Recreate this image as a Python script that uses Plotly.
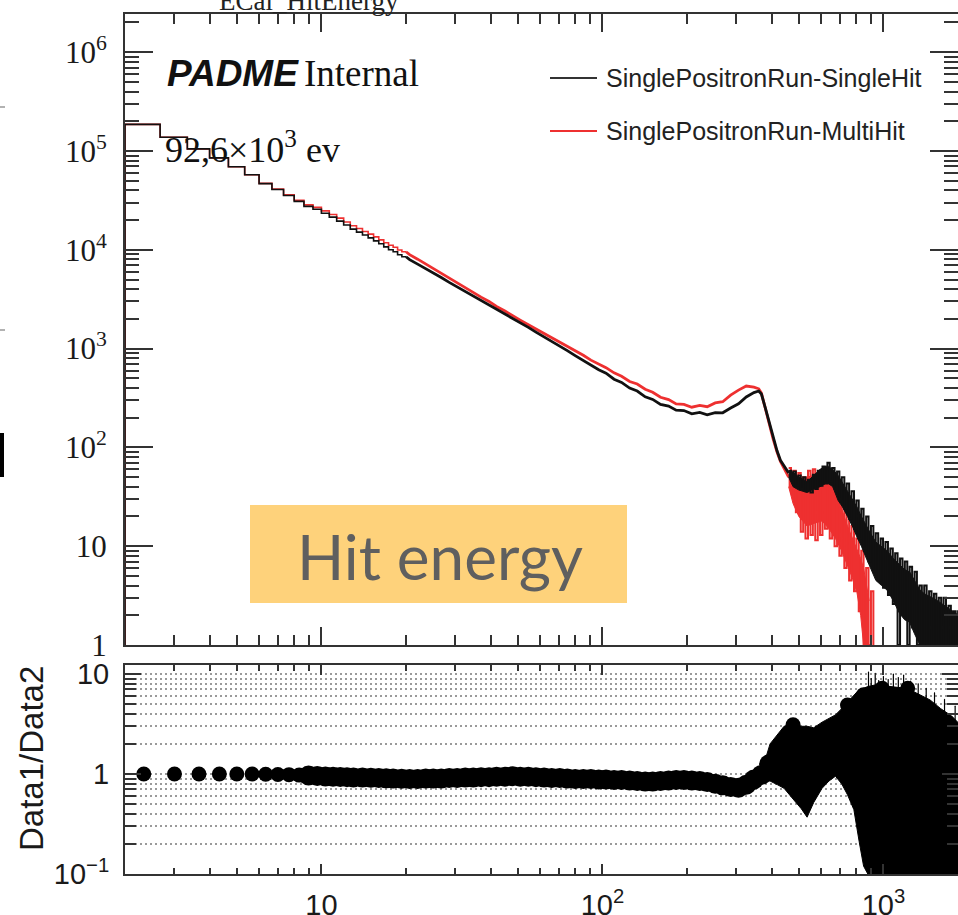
import math
import plotly.graph_objects as go

W, H = 958, 915
def px(x): return x / W
def py(y): return 1 - y / H

# ---------------- data ----------------
# low-energy histogram bins (bin edges, MeV)
low_edges = [2, 2.667, 3.333, 4, 4.667, 5.333, 6, 6.667, 7.333, 8, 8.667, 9.333, 10,
             10.667, 11.333, 12, 12.667, 13.333, 14, 14.667, 15.333, 16, 16.667, 17.333,
             18, 18.667, 19.333, 20]
single_low = [186000, 138000, 105000, 85100, 69200, 57500, 46800, 40700, 35500, 30900,
              27500, 25700, 23400, 21400, 19500, 17800, 16200, 15100, 14100, 13200,
              12300, 11500, 10700, 10000, 9550, 8910, 8510]
multi_low = [186000, 138000, 105000, 85100, 69200, 57500, 47000, 41100, 36000, 31700,
             28500, 26900, 24800, 22800, 20900, 19100, 17500, 16400, 15300, 14400,
             13500, 12600, 11800, 11100, 10600, 9960, 9560]

# mid-energy part of the spectrum
mid_x = [20, 20.6, 22, 23.5, 25, 26.7, 28.5, 30.4, 32.5, 34.7, 37, 39.5, 42, 45, 48, 51,
         54.5, 58, 62, 66, 70.5, 75, 80, 85.5, 91, 97, 103, 110, 117, 125, 133, 142, 151,
         161, 172, 183, 195, 208, 222, 236, 252, 268, 286, 305, 325, 346, 360, 368, 380,
         392, 405, 418, 430, 445, 460]
single_mid = [8510, 7940, 7160, 6460, 5820, 5250, 4680, 4220, 3800, 3430, 3090, 2790, 2510,
              2260, 2020, 1820, 1640, 1470, 1320, 1180, 1060, 955, 850, 762, 680, 610, 565,
              490, 455, 398, 372, 325, 306, 272, 262, 238, 236, 219, 226, 214, 225, 224,
              250, 276, 324, 359, 372, 347, 251, 178, 126, 93, 74, 63, 55]
multi_mid = [9560, 8920, 8040, 7180, 6470, 5830, 5140, 4640, 4130, 3730, 3320, 3000, 2670,
             2400, 2130, 1940, 1740, 1580, 1430, 1300, 1170, 1060, 955, 856, 764, 693, 642,
             568, 525, 465, 438, 388, 362, 322, 305, 275, 272, 255, 266, 258, 282, 290,
             338, 380, 418, 408, 392, 354, 245, 170, 122, 90, 72, 60, 50]

# high-energy noisy part: envelope of the fluctuating bins
blk_band_x = [460, 477, 500, 535, 565, 595, 630, 660, 690, 715, 745, 775, 805, 835, 865,
              900, 940, 985, 1030, 1085, 1140, 1190, 1240, 1290, 1350, 1400, 1466, 1530,
              1590, 1650, 1720, 1790, 1850, 1900]
blk_band_lo = [50, 40, 37, 35, 38, 40, 44, 40, 29, 25, 20, 16, 12.4, 10, 7.8, 6, 4.5, 4,
               3.6, 2.8, 2.1, 1.8, 1.7, 1.3, 1, 1, 1, 1, 1, 1, 1, 1, 1, 1]
blk_band_hi = [58, 56, 50, 45, 52, 60, 65, 60, 52, 44, 37, 30, 25, 20, 16.5, 13.5, 11, 10,
               9, 7.5, 6.5, 5.8, 5.5, 4.5, 3.6, 3.3, 3.1, 2.9, 2.7, 2.5, 2.3, 2.1, 2.0, 1.9]
red_band_x = [460, 477, 500, 535, 565, 605, 640, 675, 710, 745, 775, 805, 830, 850, 870, 890]
red_band_lo = [40, 27, 20, 16, 17, 18, 15, 12, 9, 6.5, 4.8, 3.4, 2, 1, 1, 1]
red_band_hi = [52, 50, 48, 50, 52, 50, 43, 34, 24, 16, 12, 9.5, 7.5, 6, 4, 2.8]

# bin-to-bin fluctuations (alternating high / low bins) in the noisy tail
blk_zig_x = [460, 469, 478, 488, 498, 508, 518, 528, 539, 550, 561, 572, 584, 595, 607, 619,
             632, 644, 657, 670, 684, 697, 711, 726, 740, 755, 770, 786, 801, 817, 834, 850,
             868, 885, 903, 921, 939, 958, 978, 997, 1017, 1038, 1058, 1080, 1101, 1123,
             1146, 1169, 1192, 1216, 1240, 1265, 1291, 1316, 1343, 1370, 1397, 1425, 1454,
             1483, 1513, 1543, 1574, 1605, 1637, 1670, 1704, 1738, 1773, 1808, 1844, 1881]
blk_zig_y = [58, 48, 57, 41, 52, 38, 50, 36, 47, 35, 53, 38, 58, 41, 64, 43, 70, 45, 62, 38,
             57, 30, 50, 24, 43, 19, 36, 15, 29, 12, 24, 9.5, 20, 7, 16, 5.5, 13.5, 4.5, 12,
             3.8, 11, 3.2, 9.5, 2.6, 8.5, 1, 7.5, 2, 7, 1, 6.2, 1.5, 5.5, 1, 4, 1, 4, 1, 3.5,
             1, 3.3, 1, 3, 1, 3, 1, 2.5, 1, 2.2, 1, 2.2, 1]
red_zig_x = [460, 469, 478, 488, 498, 508, 518, 528, 539, 550, 561, 572, 584, 595, 607, 619,
             632, 644, 657, 670, 684, 697, 711, 726, 740, 755, 770, 786, 801, 817, 834, 850,
             868, 885, 903, 921]
red_zig_y = [62, 35, 58, 22, 55, 14, 50, 12, 58, 13, 60, 11.5, 55, 13, 60, 15, 52, 12, 45, 10,
             40, 8, 30, 6, 22, 4.5, 16, 3.5, 12, 2.2, 9, 1, 6, 1, 3.5, 1]

# ratio panel
ratio_x = [2.333, 3, 3.667, 4.333, 5, 5.667, 6.333, 7, 7.667, 8.333, 9, 9.667, 10.333, 11,
           11.667, 12.333, 13, 14, 15, 16, 17, 18, 19.3, 20.6, 22, 23.5, 25, 26.7, 28.5,
           30.4, 32.5, 34.7, 37, 39.5, 42, 45, 48, 51, 54.5, 58, 62, 66, 70.5, 75, 80,
           85.5, 91, 97, 103, 110, 117, 125, 133, 142, 151, 161, 172, 183, 195, 208, 222,
           236, 252, 268, 286, 305, 325, 346, 368, 392]
ratio_vals = [1.0, 1.0, 1.0, 1.0, 1.0, 1.0, 0.995, 0.99, 0.985, 0.975, 0.965, 0.955, 0.945,
              0.94, 0.935, 0.93, 0.925, 0.92, 0.915, 0.91, 0.905, 0.90, 0.895, 0.89, 0.89,
              0.90, 0.90, 0.90, 0.91, 0.91, 0.92, 0.92, 0.93, 0.93, 0.94, 0.94, 0.95, 0.94,
              0.94, 0.93, 0.92, 0.91, 0.91, 0.90, 0.89, 0.89, 0.89, 0.88, 0.88, 0.87, 0.87,
              0.86, 0.85, 0.84, 0.84, 0.85, 0.86, 0.87, 0.87, 0.86, 0.85, 0.83, 0.80, 0.77,
              0.74, 0.73, 0.78, 0.88, 0.98, 1.25]
rb_x = [368, 380, 395, 420, 443, 480, 510, 535, 565, 605, 640, 675, 710, 745, 785, 820, 850,
        880, 940, 1000, 1100, 1213, 1300, 1400, 1466, 1600, 1750, 1900]
rb_lo = [0.85, 0.85, 0.85, 0.78, 0.72, 0.55, 0.45, 0.37, 0.52, 0.72, 0.85, 0.95, 0.8, 0.62,
         0.44, 0.21, 0.12, 0.1, 0.1, 0.1, 0.1, 0.1, 0.1, 0.1, 0.1, 0.1, 0.1, 0.1]
rb_hi = [1.15, 1.4, 2.0, 2.5, 3.0, 3.2, 3.0, 3.0, 2.9, 3.3, 3.6, 3.9, 4.5, 5.2, 6.2, 7.0,
         7.2, 7.5, 7.8, 7.6, 7.4, 7.2, 6.5, 5.8, 5.5, 4.5, 3.8, 3.0]
ratio_peak_x = [477, 745, 850, 990, 1220]
ratio_peak_vals = [3.1, 4.9, 6.2, 7.2, 7.2]
# large error bars sticking out of the band
ratio_spike_x = [885, 905, 935, 962, 1000, 1040, 1085, 1130, 1180, 1250, 1330, 1420, 1520, 1650, 1800]
ratio_spike_y = [10.5, 9.0, 10.2, 8.6, 9.5, 8.8, 10.0, 9.2, 9.8, 8.5, 8.0, 7.2, 6.5, 5.6, 4.8]

y_ticks_top = [1, 10, 100, 1000, 10000, 100000, 1000000]
y_text_top = ["1", "10", "10<sup>2</sup>", "10<sup>3</sup>", "10<sup>4</sup>",
              "10<sup>5</sup>", "10<sup>6</sup>"]
x_ticks = [10, 100, 1000]
x_text = ["10", "10<sup>2</sup>", "10<sup>3</sup>"]
y_ticks_bot = [0.1, 1, 10]
y_text_bot = ["10<sup>\u22121</sup>", "1", "10"]

BLACK = "#111111"
RED = "#ee3030"

# ---------------- figure ----------------
fig = go.Figure()

def steps(edges, vals):
    xs = [edges[0]] + edges[:-1] + [edges[-1]]
    ys = [1] + vals + [vals[-1]]
    return xs, ys

def add(trace):
    fig.add_trace(trace)

# red first, black on top
for vals_low, vals_mid, bx, blo, bhi, zx, zy, col in [
        (multi_low, multi_mid, red_band_x, red_band_lo, red_band_hi, red_zig_x, red_zig_y, RED),
        (single_low, single_mid, blk_band_x, blk_band_lo, blk_band_hi, blk_zig_x, blk_zig_y, BLACK)]:
    sx, sy = steps(low_edges, vals_low)
    add(go.Scatter(x=sx, y=sy, mode="lines", line=dict(color=col, width=1.6, shape="hv"),
                   xaxis="x", yaxis="y", hoverinfo="skip"))
    add(go.Scatter(x=mid_x, y=vals_mid, mode="lines", line=dict(color=col, width=2.8),
                   xaxis="x", yaxis="y", hoverinfo="skip"))
    add(go.Scatter(x=bx, y=blo, mode="lines", line=dict(color=col, width=1),
                   xaxis="x", yaxis="y", hoverinfo="skip"))
    add(go.Scatter(x=bx, y=bhi, mode="lines", line=dict(color=col, width=1),
                   fill="tonexty", fillcolor=col, xaxis="x", yaxis="y", hoverinfo="skip"))
    add(go.Scatter(x=zx, y=zy, mode="lines", line=dict(color=col, width=2, shape="hv"),
                   xaxis="x", yaxis="y", hoverinfo="skip"))

# ratio panel
add(go.Scatter(x=rb_x, y=rb_lo, mode="lines", line=dict(color="black", width=1),
               xaxis="x2", yaxis="y2", hoverinfo="skip"))
add(go.Scatter(x=rb_x, y=rb_hi, mode="lines", line=dict(color="black", width=1),
               fill="tonexty", fillcolor="black", xaxis="x2", yaxis="y2", hoverinfo="skip"))
add(go.Scatter(x=ratio_spike_x, y=ratio_spike_y, mode="markers",
               marker=dict(color="black", size=1),
               error_y=dict(type="data", symmetric=False,
                            array=[0] * len(ratio_spike_x),
                            arrayminus=[v - 2.0 for v in ratio_spike_y],
                            color="black", thickness=1.2, width=0),
               xaxis="x2", yaxis="y2", hoverinfo="skip"))
marker_sizes = [15 if x < 9 else 20 for x in ratio_x]
add(go.Scatter(x=ratio_x, y=ratio_vals, mode="markers",
               marker=dict(color="black", size=marker_sizes, opacity=1,
                           line=dict(width=0)),
               xaxis="x2", yaxis="y2"))
add(go.Scatter(x=ratio_peak_x, y=ratio_peak_vals, mode="markers",
               marker=dict(color="black", size=15, opacity=1, line=dict(width=0)),
               xaxis="x2", yaxis="y2"))

xr = [math.log10(2), math.log10(2) + (958 - 125) / 281.0]
xdom = [px(125), 1]
axcol = "#333333"

common_x = dict(type="log", range=xr, domain=xdom, showline=True, linewidth=2,
                linecolor=axcol, mirror="ticks", tickvals=x_ticks, ticks="inside",
                tickcolor=axcol, tickwidth=1.5, showgrid=False, zeroline=False,
                automargin=False)

fig.update_layout(
    width=W, height=H, margin=dict(l=0, r=0, t=0, b=0, pad=0, autoexpand=False),
    paper_bgcolor="white", plot_bgcolor="white", showlegend=False,
    xaxis=dict(**common_x, anchor="y", ticklen=18, showticklabels=False,
               minor=dict(ticks="inside", ticklen=10, dtick="D1", tickcolor=axcol, tickwidth=1.5)),
    yaxis=dict(type="log", range=[0, (645 - 14) / 98.8], domain=[py(645), py(14)],
               anchor="x", showline=True, linewidth=2, linecolor=axcol, mirror="ticks",
               tickvals=y_ticks_top, ticktext=y_text_top, ticks="inside", ticklen=28,
               tickcolor=axcol, tickwidth=1.5, showgrid=False, zeroline=False,
               automargin=False,
               tickfont=dict(family="Liberation Serif", size=31, color="#1a1a1a"),
               ticklabelstandoff=10,
               minor=dict(ticks="inside", ticklen=14, dtick="D1", tickcolor=axcol, tickwidth=1.5)),
    xaxis2=dict(**common_x, anchor="y2", ticklen=10, ticktext=x_text,
                tickfont=dict(family="Liberation Sans", size=29, color="#1a1a1a"),
                ticklabelstandoff=4,
                minor=dict(ticks="inside", ticklen=6, dtick="D1", tickcolor=axcol, tickwidth=1.5)),
    yaxis2=dict(type="log", range=[-1, 1.09], domain=[py(874), py(665)], anchor="x2",
                showline=True, linewidth=2, linecolor=axcol, mirror="ticks",
                tickvals=y_ticks_bot, ticktext=y_text_bot, ticks="inside", ticklen=16,
                tickcolor=axcol, tickwidth=1.5, zeroline=False, automargin=False,
                showgrid=True, gridcolor="#9a9a9a", gridwidth=1.5, griddash="2px,3px",
                tickfont=dict(family="Liberation Sans", size=29, color="#1a1a1a"),
                ticklabelstandoff=8,
                minor=dict(ticks="inside", ticklen=11, dtick="D1", tickcolor=axcol,
                           tickwidth=1.5, showgrid=True, gridcolor="#9a9a9a",
                           gridwidth=1.5, griddash="2px,3px")),
)

ann = []
ann.append(dict(text="ECal_HitEnergy", x=px(309), y=py(1), xref="paper", yref="paper",
                showarrow=False, xanchor="center", yanchor="middle",
                font=dict(family="Liberation Serif", size=27, color="#222")))
ann.append(dict(text="<b><i>PADME</i></b>", x=px(165), y=py(73), xref="paper", yref="paper",
                showarrow=False, xanchor="left", yanchor="middle",
                font=dict(family="Liberation Sans", size=37, color="#111")))
ann.append(dict(text="Internal", x=px(302), y=py(73), xref="paper", yref="paper",
                showarrow=False, xanchor="left", yanchor="middle",
                font=dict(family="Liberation Serif", size=37, color="#111")))
ann.append(dict(text="92,6\u00d710<sup>3</sup> ev", x=px(163), y=py(147), xref="paper",
                yref="paper", showarrow=False, xanchor="left", yanchor="middle",
                font=dict(family="Liberation Serif", size=36, color="#111")))
ann.append(dict(text="SinglePositronRun-SingleHit", x=px(604), y=py(78), xref="paper",
                yref="paper", showarrow=False, xanchor="left", yanchor="middle",
                font=dict(family="Liberation Sans", size=25, color="#222")))
ann.append(dict(text="SinglePositronRun-MultiHit", x=px(604), y=py(131), xref="paper",
                yref="paper", showarrow=False, xanchor="left", yanchor="middle",
                font=dict(family="Liberation Sans", size=25, color="#222")))
ann.append(dict(text="Hit energy", x=px(440), y=py(556), xref="paper", yref="paper",
                showarrow=False, xanchor="center", yanchor="middle",
                font=dict(family="Lato", size=62, color="#5f5f5f")))
ann.append(dict(text="Data1/Data2", x=px(31), y=py(759), xref="paper", yref="paper",
                showarrow=False, xanchor="center", yanchor="middle", textangle=-90,
                font=dict(family="Liberation Sans", size=33, color="#1a1a1a")))

shapes = []
shapes.append(dict(type="rect", xref="paper", yref="paper", x0=px(250), x1=px(627),
                   y0=py(603), y1=py(505), fillcolor="#fed27b", line=dict(width=0), layer="above"))
shapes.append(dict(type="line", xref="paper", yref="paper", x0=px(550), x1=px(597),
                   y0=py(78), y1=py(78), line=dict(color="#333", width=2)))
shapes.append(dict(type="line", xref="paper", yref="paper", x0=px(550), x1=px(597),
                   y0=py(131), y1=py(131), line=dict(color=RED, width=2)))
# slide remnants at the left edge
shapes.append(dict(type="line", xref="paper", yref="paper", x0=0, x1=px(5),
                   y0=py(107), y1=py(107), line=dict(color="#999", width=1.5)))
shapes.append(dict(type="line", xref="paper", yref="paper", x0=0, x1=px(5),
                   y0=py(330), y1=py(330), line=dict(color="#999", width=1.5)))
shapes.append(dict(type="rect", xref="paper", yref="paper", x0=0, x1=px(4),
                   y0=py(477), y1=py(433), fillcolor="black", line=dict(width=0)))

fig.update_layout(annotations=ann, shapes=shapes)
fig.write_html("out.html")
